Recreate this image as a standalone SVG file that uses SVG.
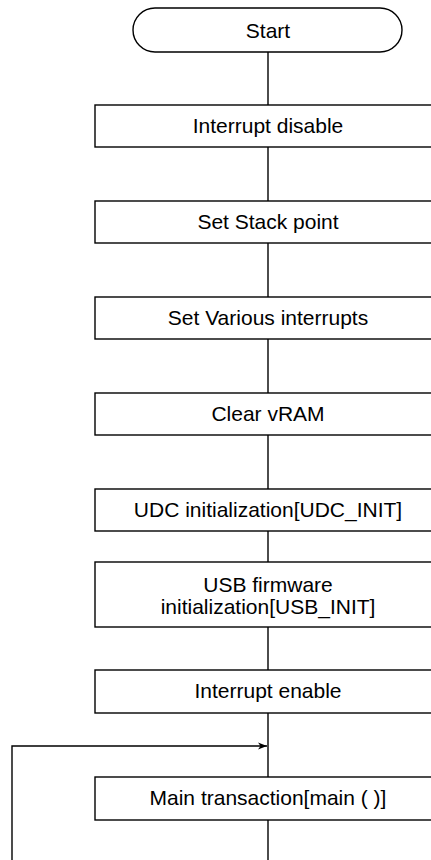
<svg xmlns="http://www.w3.org/2000/svg" width="431" height="860" viewBox="0 0 431 860">
<style>
.b{fill:#fff;stroke:#000;stroke-width:1.4}
.t{font-family:"Liberation Sans",Arial,sans-serif;font-size:21px;fill:#000;text-anchor:middle}
.c{fill:none;stroke:#000;stroke-width:1.4}
</style>
<defs>
<marker id="ah" markerWidth="10" markerHeight="8" refX="9" refY="4" orient="auto" markerUnits="userSpaceOnUse">
<path d="M0,0.5 L9,4 L0,7.5 L2.5,4 Z" fill="#000"/>
</marker>
</defs>
<rect width="431" height="860" fill="#fff"/>
<g id="connectors">
<line class="c" x1="268" y1="52" x2="268" y2="105"/>
<line class="c" x1="268" y1="147" x2="268" y2="201"/>
<line class="c" x1="268" y1="243" x2="268" y2="297"/>
<line class="c" x1="268" y1="339" x2="268" y2="393"/>
<line class="c" x1="268" y1="435" x2="268" y2="489"/>
<line class="c" x1="268" y1="531" x2="268" y2="562"/>
<line class="c" x1="268" y1="627" x2="268" y2="670"/>
<line class="c" x1="268" y1="713" x2="268" y2="777"/>
<line class="c" x1="268" y1="820" x2="268" y2="860"/>
<polyline class="c" points="12,860 12,746 267,746" marker-end="url(#ah)"/>
</g>
<g id="start">
<rect class="b" x="133" y="8" width="269" height="44" rx="22" ry="22"/>
<text class="t" x="268" y="38">Start</text>
</g>
<g id="int-disable">
<rect class="b" x="95" y="105" width="346" height="42"/>
<text class="t" x="268" y="133">Interrupt disable</text>
</g>
<g id="stack">
<rect class="b" x="95" y="201" width="346" height="42"/>
<text class="t" x="268" y="229">Set Stack point</text>
</g>
<g id="various">
<rect class="b" x="95" y="297" width="346" height="42"/>
<text class="t" x="268" y="325">Set Various interrupts</text>
</g>
<g id="clear">
<rect class="b" x="95" y="393" width="346" height="42"/>
<text class="t" x="268" y="421">Clear vRAM</text>
</g>
<g id="udc">
<rect class="b" x="95" y="489" width="346" height="42"/>
<text class="t" x="268" y="517">UDC initialization[UDC_INIT]</text>
</g>
<g id="usb">
<rect class="b" x="95" y="562" width="346" height="65"/>
<text class="t" x="268" y="592">USB firmware</text>
<text class="t" x="268" y="614">initialization[USB_INIT]</text>
</g>
<g id="int-enable">
<rect class="b" x="95" y="670" width="346" height="43"/>
<text class="t" x="268" y="698">Interrupt enable</text>
</g>
<g id="main">
<rect class="b" x="95" y="777" width="346" height="43"/>
<text class="t" x="268" y="805">Main transaction[main ( )]</text>
</g>
</svg>
